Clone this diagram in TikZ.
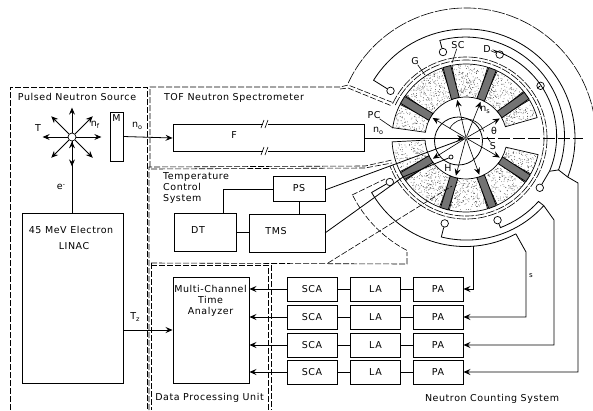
\documentclass[tikz,border=0pt]{standalone}
\usepackage{fontspec}
\setmainfont[LetterSpace=6]{DejaVu Sans}
\usetikzlibrary{positioning,arrows.meta}
\newcommand{\sublab}[1]{\raisebox{-2pt}{\fontsize{6.5}{6.5}\selectfont #1}}

\begin{document}
\begin{tikzpicture}[
    x=1pt, y=-1pt,
    >={Stealth[length=7pt,width=6pt,inset=2.5pt]},
    every node/.style={font=\fontsize{9.5}{11}\selectfont},
    lbl/.style={inner sep=0pt},
    blk/.style={draw, line width=0.9pt, inner sep=0pt},
    smallblk/.style={blk, minimum width=50pt, minimum height=24pt},
    det/.style={draw, circle, fill=white, line width=0.7pt, inner sep=0pt, minimum size=7.5pt},
    wire/.style={line width=0.8pt},
    panel/.style={line width=0.6pt, dash pattern=on 6pt off 2pt},
    thinwire/.style={line width=0.6pt}
]
\useasboundingbox (0,0) rectangle (593,410);

% Panel borders
\draw[panel] (10,410) -- (10,87) -- (147,87) -- (147,410);
\draw[panel] (150,167) -- (150,87) -- (340,87) -- (348,85) -- (394,103);
\draw[panel] (340,89) -- (348,88) -- (392,106);
\draw[panel] (149,410) -- (149,167) -- (365,166) -- (392,160);
\draw[panel] (151,169) -- (365,168) -- (392,163);
\draw[panel] (151,263) -- (151,410);
\draw[panel] (151,263) -- (407,264) -- (407,252);
\draw[panel] (151,265) -- (268,265) -- (268,410);
\draw[panel] (271,265) -- (271,410);

% Pulsed neutron source
\node[det, minimum size=8pt] (T) at (72,137) {};
\node[blk, minimum width=13pt, minimum height=49pt] (M) at (116.5,136.5) {};
\node[lbl] (Mt) at (116.5,118) {M};
\node[blk, minimum width=101pt, minimum height=170pt] (LINAC) at (72.5,298) {};
\node[lbl] (LINACa) at (71,230) {45 MeV Electron};
\node[lbl] (LINACb) at (74,246) {LINAC};
\node[lbl] (Ttxt) at (38,128) {T};
\node[lbl] (nf) at (95,125) {n\sublab{f}};
\node[lbl] (e) at (61,187) {e\raisebox{3pt}{\fontsize{6}{6}\selectfont -}};
\node[lbl] (nO) at (137,126) {n\sublab{o}};
\node[lbl] (Tz) at (135,317) {T\sublab{z}};
\node[lbl] (title1) at (77,97) {Pulsed Neutron Source};

% Flight tube
\node[blk, minimum width=191pt, minimum height=27pt] (F) at (268.5,138) {};
\node[lbl] (Ft) at (234,135) {F};
\node[lbl] (title2) at (234,98) {TOF Neutron Spectrometer};

% Temperature control
\node[lbl, align=left, anchor=north west] (title3) at (163,172) {Temperature\\Control\\System};
\node[blk, minimum width=52pt, minimum height=25pt] (PS) at (299,188.5) {PS};
\node[blk, minimum width=62pt, minimum height=38pt] (DT) at (205,232) {};
\node[lbl] (DTt) at (198,230) {DT};
\node[blk, minimum width=76pt, minimum height=38pt] (TMS) at (287,233) {};
\node[lbl] (TMSt) at (276,231) {TMS};

% Data processing
\node[blk, minimum width=76pt, minimum height=106pt] (MCTA) at (211,330) {};
\node[lbl, align=center] (MCTAt) at (210.5,301) {Multi-Channel\\Time\\Analyzer};
\node[lbl] (title4) at (209.5,398) {Data Processing Unit};

% Counting chain
\node[smallblk] (SCA1) at (312,289) {SCA};
\node[smallblk] (SCA2) at (312,317) {SCA};
\node[smallblk] (SCA3) at (312,345) {SCA};
\node[smallblk] (SCA4) at (312,372) {SCA};
\node[smallblk] (LA1) at (375.5,289) {LA};
\node[smallblk] (LA2) at (375.5,317) {LA};
\node[smallblk] (LA3) at (375.5,345) {LA};
\node[smallblk] (LA4) at (375.5,372) {LA};
\node[smallblk] (PA1) at (438,289) {PA};
\node[smallblk] (PA2) at (438,317) {PA};
\node[smallblk] (PA3) at (438,345) {PA};
\node[smallblk] (PA4) at (438,372) {PA};
\node[lbl] (title5) at (492,399) {Neutron Counting System};
\node[lbl] (s) at (531,276) {\fontsize{7}{7}\selectfont s};

% Spectrometer disc
\begin{scope}[shift={(466,138)}, x=1pt, y=1pt]
  % stippled shielding sectors
  \pgfmathsetseed{4711}
  \foreach \a/\b/\n in {153/172/110, 109/145/220, 73/101/170, 39/65/160, 16/31/100,
                        -29/-13/100, -65/-37/160, -103/-73/170, -145/-111/220, 183/207/130}{
    \draw[line width=0.7pt] (\a:41) arc[start angle=\a, end angle=\b, radius=41]
      -- (\b:74) arc[start angle=\b, end angle=\a, radius=74] -- cycle;
    \foreach \i in {1,...,\n}{
      \pgfmathsetmacro\rr{42+31*rnd}
      \pgfmathsetmacro\tt{\a+(\b-\a)*rnd}
      \fill[black!75] (\tt:\rr) circle (0.4);
    }
  }
  % collimator bars
  \foreach \a in {149,105,69,35,-33,-69,-107,211}{
    \draw[rotate=\a, line width=0.8pt, fill=black!55] (41,-4) rectangle (74,4);
  }
  % shield dashes
  \draw[thinwire, dash pattern=on 9pt off 1.5pt] (155:78) arc[start angle=155, end angle=-160, radius=78];
  \draw[thinwire, dash pattern=on 9pt off 1.5pt] (155:81) arc[start angle=155, end angle=-160, radius=81];
  \draw[thinwire, dash pattern=on 13pt off 1.5pt] (155:130) arc[start angle=155, end angle=9.4, radius=130];
  \draw[panel] (207:127) arc[start angle=207, end angle=243, radius=127];
  % sample chamber
  \draw[line width=0.8pt] (-7.5,-3) circle (24);
  \draw[thinwire] (150:19) arc[start angle=150, end angle=20, radius=19];
  \node[det, minimum size=3pt] (Sample) at (0,0) {};
  % detectors
  \node[det] (D1) at (105:89) {};
  \node[det] (D2) at (68:90) {};
  \node[det] (D3) at (35:91) {};
  \node[det] (D4) at (-34:89) {};
  \node[det] (D5) at (-69:88) {};
  \node[det] (D6) at (-104:88) {};
  \node[det] (D7) at (-150:88) {};
  \node[det] (D8) at (148:89) {};
  % scattered neutrons
  \foreach \a in {149,103,68,30,-30,-70,-105,212}{
    \draw[->, thinwire] (Sample) -- (\a:39);
  }
  % detector cables
  \draw[wire] (D8) -- (148:109) arc[start angle=148, end angle=-21, radius=109] coordinate (j1);
  \draw[wire] (D1) -- (105:101) arc[start angle=105, end angle=-20, radius=99] coordinate (j2);
  \draw[wire] (D2) -- (72:92) arc[start angle=72, end angle=-23, radius=90] coordinate (j3);
  \draw[wire] (D3) -- (35:90.5);
  \draw[wire] (D4) -- (j3);
  \draw[wire] (D7) -- (210:109) arc[start angle=210, end angle=298, radius=108] coordinate (j4);
  \draw[wire] (D6) -- (-104:102) arc[start angle=-104, end angle=-42, radius=104] coordinate (j5);
  \draw[wire] (D5) -- (-69:96) arc[start angle=-69, end angle=-42, radius=99] -- (j5);
  \coordinate (j6) at (-86:108);
\end{scope}

% Disc labels
\node[lbl] (SC) at (458,45) {SC};
\node[lbl] (D) at (487,49) {D};
\node[lbl] (G) at (415,61) {G};
\node[lbl] (PC) at (374,115) {PC};
\node[lbl] (nOb) at (378,131) {n\sublab{o}};
\node[lbl] (ns) at (485,110) {n\sublab{s}};
\node[lbl] (th) at (494,131) {θ};
\node[lbl] (S) at (493,146) {S};
\node[lbl] (H) at (448,168) {H};
\node[det, minimum size=4pt] (Hc) at (451,157) {};

\coordinate (SCe) at (452,63);
\coordinate (Ge) at (425,75);
\coordinate (PCe) at (393,128);
\coordinate (Se) at (487,137);
\draw[thinwire] (SC) -- (SCe);
\draw[thinwire] (D) -- (D2);
\draw[thinwire] (G) -- (Ge);
\draw[thinwire] (PC) -- (PCe);
\draw[thinwire] (S) -- (Se);

% Source edges
\foreach \a in {0,45,...,315}{
  \draw[->, wire] (T.-\a) -- ++(\a:25);
}
\draw[->, wire] (LINAC.north -| T) -- (T);
\draw[->, wire] (M.east) -- (F.west);
\draw[->, wire] (F.east) -- (Sample);
\coordinate (bEnd) at (583,138);
\draw[thinwire, dash pattern=on 12pt off 3pt] (Sample) -- (bEnd);
\draw[->, wire] (LINAC.east |- 0,330) -- (MCTA.west |- 0,330);

% Breaks in flight tube
\draw[white, line width=3pt] (263,124.5) -- (268,124.5);
\draw[white, line width=3pt] (263,151.5) -- (268,151.5);
\draw[thinwire] (261,128) -- (264,120);
\draw[thinwire] (265,128) -- (268,120);
\draw[thinwire] (261,155) -- (264,147);
\draw[thinwire] (265,155) -- (268,147);

% Temperature control edges
\coordinate (PSk) at (223,189);
\draw[wire] (PS.west |- PSk) -- (PSk) -- (PSk |- DT.north);
\draw[wire] (PS.south) -- (PS.south |- TMS.north);
\draw[wire] (DT.east) -- (TMS.west |- DT.east);
\coordinate (PSl) at (325,190);
\draw[wire] (PSl) -- (Sample);
\coordinate (TMSl) at (325,233);
\coordinate (TMSk) at (403,177);
\draw[wire] (TMSl) -- (TMSk) -- (Hc);
\coordinate (dTop) at (328,263);
\coordinate (dEnd) at (452,186);
\draw[panel] (dTop) -- (dEnd);
\coordinate (dCor) at (352,195);
\coordinate (dArm) at (385,179);
\draw[panel] (dCor) -- (dArm);

% Counting edges
\draw[->, wire] (SCA1) -- (MCTA.east |- SCA1);
\draw[->, wire] (SCA2) -- (MCTA.east |- SCA2);
\draw[->, wire] (SCA3) -- (MCTA.east |- SCA3);
\draw[->, wire] (SCA4) -- (MCTA.east |- SCA4);
\draw[wire] (LA1) -- (SCA1);
\draw[wire] (LA2) -- (SCA2);
\draw[wire] (LA3) -- (SCA3);
\draw[wire] (LA4) -- (SCA4);
\draw[wire] (PA1) -- (LA1);
\draw[wire] (PA2) -- (LA2);
\draw[wire] (PA3) -- (LA3);
\draw[wire] (PA4) -- (LA4);

% Cables to preamps
\coordinate (k2) at (526,252);
\coordinate (k3) at (554,220);
\coordinate (k4) at (578,183);
\draw[->, wire] (j6) |- (PA1.east);
\draw[->, wire] (j4) -- (k2) |- (PA2.east);
\draw[->, wire] (j5) -- (k3) |- (PA3.east);
\draw[->, wire] (j1) -- (k4) |- (PA4.east);
\draw[wire] (j3) -- (j2) -- (j1);

\end{tikzpicture}
\end{document}
